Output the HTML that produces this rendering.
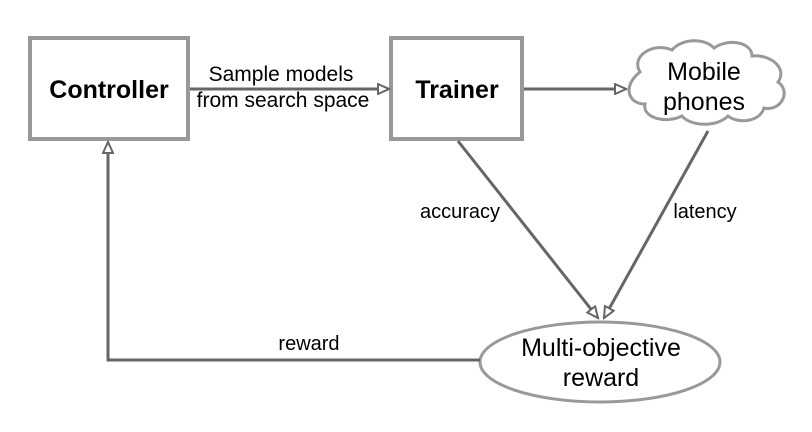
<!DOCTYPE html>
<html><head><style>body{margin:0;background:#fff}</style></head><body>
<svg width="812" height="427" xmlns="http://www.w3.org/2000/svg" font-family="Liberation Sans, Arial, sans-serif">
<defs>
<marker id="a" markerWidth="14" markerHeight="12" refX="12" refY="6" orient="auto" markerUnits="userSpaceOnUse">
<path d="M1,1 L12,6 L1,11 Z" fill="#fff" stroke="#666" stroke-width="2"/>
</marker>
</defs>
<rect x="30" y="38" width="158" height="101" fill="#fff" stroke="#999" stroke-width="4"/>
<rect x="391" y="38" width="131" height="101" fill="#fff" stroke="#999" stroke-width="4"/>
<text x="109" y="98" font-size="25" font-weight="bold" text-anchor="middle">Controller</text>
<text x="457" y="98" font-size="25" font-weight="bold" text-anchor="middle">Trainer</text>
<line x1="190" y1="89" x2="389" y2="89" stroke="#666" stroke-width="3" marker-end="url(#a)"/>
<text x="281" y="81" font-size="21" text-anchor="middle">Sample models</text>
<text x="283" y="107" font-size="21" text-anchor="middle">from search space</text>
<line x1="524" y1="89" x2="626" y2="89" stroke="#666" stroke-width="3" marker-end="url(#a)"/>
<path d="M640,72 C630,55 655,42 672,50 C682,38 705,38 714,48 C728,38 752,42 752,56 C770,54 788,68 778,82 C792,92 780,112 764,108 C760,122 738,124 728,116 C716,128 690,126 682,116 C666,124 642,118 645,104 C628,104 622,86 640,72 Z" fill="#fff" stroke="#999" stroke-width="3"/>
<text x="704" y="80" font-size="25" text-anchor="middle">Mobile</text>
<text x="704" y="110" font-size="25" text-anchor="middle">phones</text>
<line x1="458" y1="141" x2="598" y2="318" stroke="#666" stroke-width="3" marker-end="url(#a)"/>
<line x1="708" y1="131" x2="604" y2="318" stroke="#666" stroke-width="3" marker-end="url(#a)"/>
<text x="460" y="218" font-size="20" text-anchor="middle">accuracy</text>
<text x="705" y="218" font-size="20" text-anchor="middle">latency</text>
<ellipse cx="600" cy="362" rx="120" ry="40" fill="#fff" stroke="#999" stroke-width="3"/>
<text x="601" y="356" font-size="25" text-anchor="middle">Multi-objective</text>
<text x="601" y="386" font-size="25" text-anchor="middle">reward</text>
<polyline points="480,360 108,360 108,142" fill="none" stroke="#666" stroke-width="3" marker-end="url(#a)"/>
<text x="309" y="350" font-size="20" text-anchor="middle">reward</text>
</svg>
</body></html>
